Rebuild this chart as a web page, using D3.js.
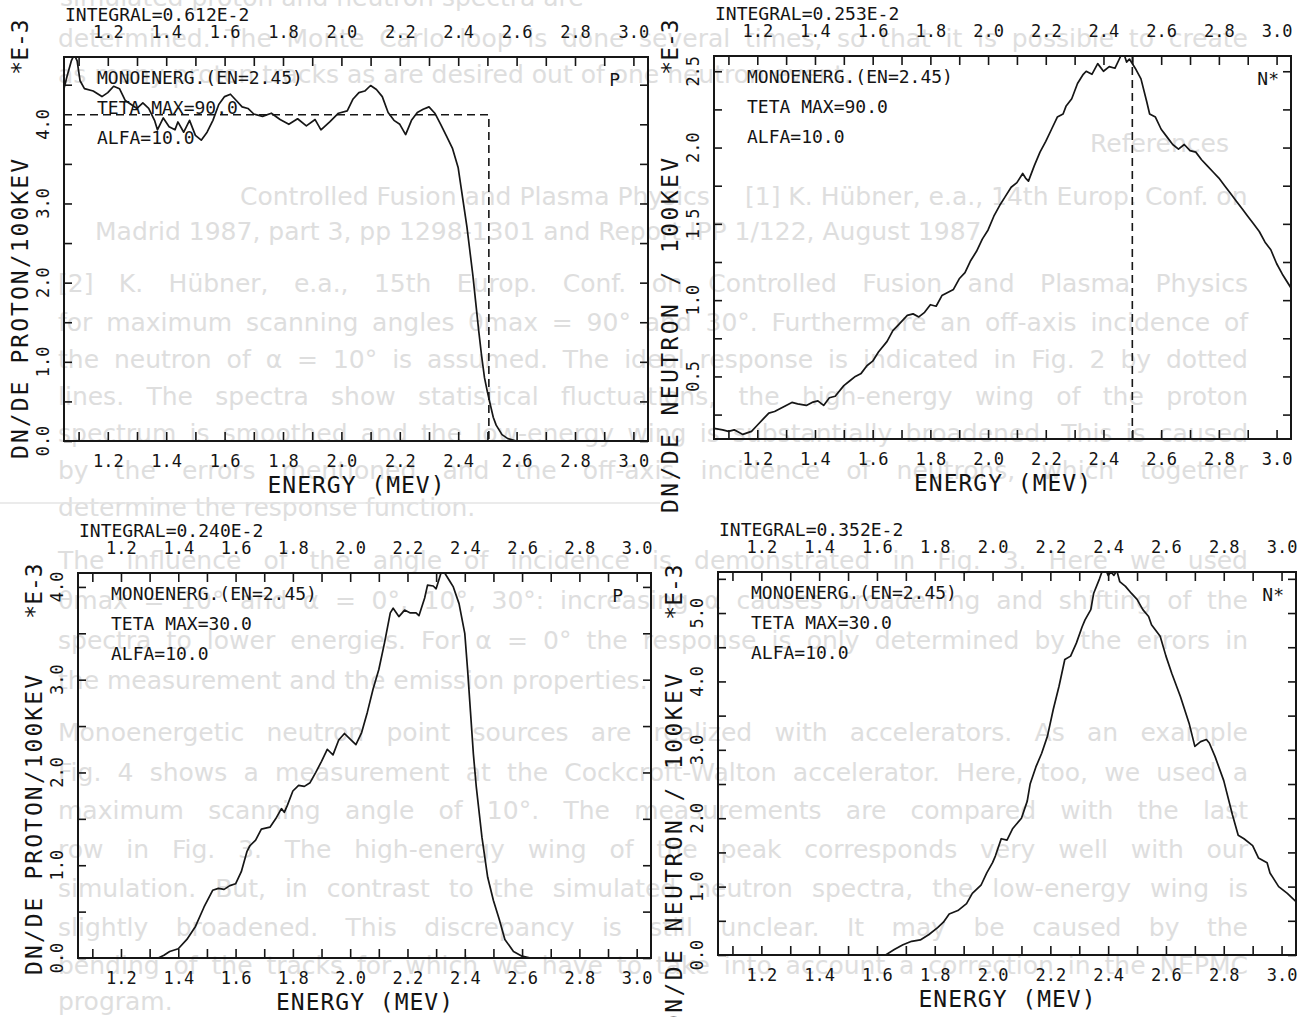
<!DOCTYPE html>
<html>
<head>
<meta charset="utf-8">
<script src="https://cdn.jsdelivr.net/npm/d3@7"></script>
<style>
  body { margin: 0; background: #fff; }
  svg { display: block; }
  .page text { font-family: "DejaVu Sans", sans-serif; font-size: 25px; fill: #dedede; }
  .plot text { font-family: "DejaVu Sans Mono", monospace; fill: #141414; }
</style>
</head>
<body>
<svg width="1311" height="1017"></svg>
<script>
// shared energy axis (MeV)
var energyDomain = [1.05, 3.05];
var energyTicks = d3.range(11, 31).map(function(d) { return d / 10; });
var energyLabels = ["1.2", "1.4", "1.6", "1.8", "2.0", "2.2", "2.4", "2.6", "2.8", "3.0"];

var integrals = ["INTEGRAL=0.612E-2", "INTEGRAL=0.253E-2", "INTEGRAL=0.240E-2", "INTEGRAL=0.352E-2"];
var particles = ["P", "N*", "P", "N*"];
var yTitles = ["DN/DE PROTON/100KEV", "DN/DE NEUTRON / 100KEV", "DN/DE PROTON/100KEV", "DN/DE NEUTRON / 100KEV"];
var info90 = ["MONOENERG.(EN=2.45)", "TETA MAX=90.0", "ALFA=10.0"];
var info30 = ["MONOENERG.(EN=2.45)", "TETA MAX=30.0", "ALFA=10.0"];

// panel 1: proton spectrum, teta max 90
var p1Energy = [1.05,1.06,1.075,1.085,1.095,1.105,1.12,1.15,1.18,
  1.20,1.22,1.24,1.26,1.28,1.30,1.32,1.34,1.36,
  1.37,1.39,1.41,1.43,1.44,1.46,1.48,1.50,1.52,1.54,1.56,1.58,1.60,1.62,1.64,1.66,1.68,1.70,
  1.73,1.76,1.79,1.82,1.85,1.88,1.91,1.93,1.96,1.99,
  2.02,2.04,2.06,2.08,2.10,2.12,2.14,2.16,2.18,2.20,2.22,2.24,2.26,2.28,2.30,2.32,2.34,2.36,2.38,2.40,
  2.41,2.42,2.43,2.44,2.45,2.46,2.47,2.48,2.49,2.50,2.51,2.52,2.53,
  2.55,2.57,2.60,3.05];
var p1Value = [4.45,4.6,4.8,4.88,4.8,4.55,4.45,4.42,4.35,
  4.4,4.48,4.45,4.3,4.25,4.2,4.27,4.2,4.05,
  3.93,4.08,3.97,3.93,4.03,3.9,4.05,3.86,3.8,3.9,4.05,4.25,4.35,4.38,4.3,4.22,4.2,4.13,
  4.1,4.14,4.06,4.0,4.07,3.98,4.06,3.93,4.03,4.14,
  4.17,4.32,4.4,4.42,4.49,4.44,4.35,4.15,4.05,4.0,3.87,4.05,4.15,4.19,4.22,4.14,4.0,3.85,3.7,3.45,
  3.2,2.95,2.7,2.4,2.1,1.75,1.4,1.08,0.8,0.62,0.46,0.3,0.2,
  0.08,0.03,0,0];
var p1IdealEnergy = [1.05, 2.505, 2.505];
var p1IdealValue = [4.12, 4.12, 0];
var p1YTicks = [0, 0.5, 1, 1.5, 2, 2.5, 3, 3.5, 4, 4.5];
var p1YLabels = [0, 1, 2, 3, 4];

// panel 2: neutron spectrum, teta max 90
var p2Energy = [1.05,1.08,1.10,1.12,1.15,1.18,1.20,1.22,1.24,1.26,1.28,1.30,1.32,1.34,1.37,1.39,1.41,1.43,1.45,1.47,
  1.50,1.52,1.54,1.56,1.58,1.60,1.62,1.65,1.67,1.69,1.72,1.74,1.76,1.78,1.80,1.82,1.84,1.86,1.88,1.90,
  1.92,1.94,1.96,1.98,2.00,2.02,2.04,2.06,2.08,2.10,2.12,2.13,2.14,2.16,2.18,2.20,2.22,2.24,2.26,2.27,
  2.29,2.31,2.33,2.34,2.36,2.38,2.40,2.42,2.44,2.46,2.47,2.48,2.49,2.51,2.53,2.55,2.56,2.58,2.60,2.62,
  2.64,2.66,2.68,2.70,2.72,2.74,2.76,2.78,2.80,2.82,2.84,2.86,2.88,2.90,2.92,2.94,2.96,2.98,3.00,3.02,3.05];
var p2Value = [0.16,0.15,0.14,0.15,0.12,0.14,0.18,0.22,0.26,0.27,0.29,0.31,0.33,0.32,0.31,0.33,0.34,0.31,0.36,0.37,
  0.44,0.47,0.50,0.52,0.57,0.60,0.66,0.73,0.80,0.84,0.90,0.91,0.89,0.92,0.97,0.96,1.03,1.05,1.07,1.14,
  1.18,1.26,1.32,1.40,1.46,1.55,1.62,1.68,1.74,1.77,1.83,1.80,1.78,1.88,1.97,2.04,2.12,2.20,2.22,2.27,
  2.32,2.42,2.48,2.50,2.48,2.55,2.50,2.53,2.52,2.60,2.62,2.56,2.58,2.52,2.45,2.30,2.22,2.20,2.12,2.07,
  2.02,1.99,2.02,1.98,1.97,1.92,1.88,1.84,1.80,1.75,1.70,1.65,1.60,1.55,1.50,1.45,1.38,1.33,1.24,1.17,1.08];
var p2IdealEnergy = [2.5, 2.5];
var p2IdealValue = [0.09, 2.6];
var p2YTicks = [0.25, 0.5, 0.75, 1, 1.25, 1.5, 1.75, 2, 2.25, 2.5];
var p2YLabels = [0.5, 1, 1.5, 2, 2.5];

// panel 3: proton spectrum, teta max 30
var p3Energy = [1.05,1.33,1.35,1.37,1.40,1.43,1.46,1.49,1.52,1.54,1.56,1.58,1.60,1.62,1.64,1.65,1.67,1.69,1.72,1.74,
  1.76,1.77,1.78,1.80,1.82,1.84,1.86,1.88,1.90,1.92,1.94,1.96,1.98,2.00,2.02,2.04,2.06,2.08,2.10,2.12,
  2.14,2.15,2.17,2.19,2.21,2.23,2.24,2.26,2.27,2.29,2.30,2.32,2.33,2.35,2.36,2.38,2.40,2.41,2.42,2.43,
  2.44,2.46,2.48,2.50,2.52,2.54,2.57,2.60,2.63,3.05];
var p3Value = [0,0,0.03,0.07,0.10,0.20,0.34,0.55,0.73,0.75,0.74,0.78,0.80,0.93,1.15,1.21,1.27,1.39,1.41,1.50,
  1.61,1.57,1.64,1.80,1.86,1.85,1.89,2.00,2.12,2.25,2.19,2.35,2.42,2.36,2.30,2.43,2.65,2.90,3.11,3.40,
  3.72,3.77,3.68,3.75,3.72,3.72,3.69,3.88,4.02,4.01,3.98,4.18,4.15,4.05,4.0,3.82,3.5,3.1,2.65,2.2,
  1.85,1.3,0.87,0.62,0.42,0.2,0.07,0.02,0,0];
var p3YTicks = [0, 0.5, 1, 1.5, 2, 2.5, 3, 3.5, 4];
var p3YLabels = [0, 1, 2, 3, 4];

// panel 4: neutron spectrum, teta max 30
var p4Energy = [1.05,1.63,1.66,1.69,1.72,1.75,1.78,1.81,1.83,1.85,1.88,1.91,1.93,1.96,1.98,2.00,2.01,2.03,2.05,2.07,
  2.10,2.12,2.13,2.15,2.17,2.19,2.21,2.23,2.25,2.27,2.29,2.31,2.32,2.34,2.35,2.37,2.38,2.39,2.40,2.41,
  2.42,2.43,2.44,2.46,2.48,2.50,2.52,2.54,2.55,2.58,2.60,2.62,2.65,2.68,2.70,2.72,2.74,2.75,2.77,2.80,
  2.83,2.85,2.87,2.90,2.92,2.95,2.96,2.99,3.02,3.05];
var p4Value = [0,0,0.08,0.15,0.20,0.22,0.30,0.40,0.48,0.60,0.65,0.75,0.90,1.02,1.20,1.35,1.45,1.70,1.68,1.85,
  2.00,2.25,2.50,2.75,2.95,3.20,3.59,3.93,4.32,4.37,4.56,4.80,4.90,5.05,5.29,5.50,5.62,5.65,5.55,5.60,
  5.55,5.62,5.46,5.39,5.29,5.20,5.05,4.95,4.83,4.66,4.37,4.12,3.78,3.39,3.05,3.12,3.15,3.10,2.90,2.55,
  2.05,1.75,1.70,1.60,1.42,1.35,1.20,1.00,0.90,0.78];
var p4YTicks = [0, 0.5, 1, 1.5, 2, 2.5, 3, 3.5, 4, 4.5, 5, 5.5];
var p4YLabels = [0, 1, 2, 3, 4, 5];

// faint show-through text of the scanned page
var pageLines = [
  { x: 60, y: 6, t: "simulated proton and neutron spectra are" },
  { x: 58, y: 47, w: 1190, t: "determined. The Monte Carlo loop is done several times, so that it is possible to create" },
  { x: 58, y: 83, t: "as many proton tracks as are desired out of one neutron event." },
  { x: 1090, y: 152, t: "References" },
  { x: 240, y: 205, t: "Controlled Fusion and Plasma Physics" },
  { x: 745, y: 205, t: "[1] K. Hübner, e.a., 14th Europ. Conf. on" },
  { x: 95, y: 240, t: "Madrid 1987, part 3, pp 1298-1301 and Report IPP 1/122, August 1987" },
  { x: 58, y: 292, w: 1190, t: "[2] K. Hübner, e.a., 15th Europ. Conf. on Controlled Fusion and Plasma Physics" },
  { x: 58, y: 331, w: 1190, t: "for maximum scanning angles θmax = 90° and 30°. Furthermore an off-axis incidence of" },
  { x: 58, y: 368, w: 1190, t: "the neutron of α = 10° is assumed. The ideal response is indicated in Fig. 2 by dotted" },
  { x: 58, y: 405, w: 1190, t: "lines. The spectra show statistical fluctuations, the high-energy wing of the proton" },
  { x: 58, y: 442, w: 1190, t: "spectrum is smoothed and the low-energy wing is substantially broadened. This is caused" },
  { x: 58, y: 479, w: 1190, t: "by the errors mentioned and the off-axis incidence of neutrons, which together" },
  { x: 58, y: 516, t: "determine the response function." },
  { x: 58, y: 569, w: 1190, t: "The influence of the angle of incidence is demonstrated in Fig. 3. Here we used" },
  { x: 58, y: 609, w: 1190, t: "θmax = 10° and α = 0°, 10°, 30°: increasing α causes broadening and shifting of the" },
  { x: 58, y: 649, w: 1190, t: "spectra to lower energies. For α = 0° the response is only determined by the errors in" },
  { x: 58, y: 689, t: "the measurement and the emission properties." },
  { x: 58, y: 741, w: 1190, t: "Monoenergetic neutron point sources are realized with accelerators. As an example" },
  { x: 58, y: 781, w: 1190, t: "Fig. 4 shows a measurement at the Cockcroft-Walton accelerator. Here, too, we used a" },
  { x: 58, y: 819, w: 1190, t: "maximum scanning angle of 10°. The measurements are compared with the last" },
  { x: 58, y: 858, w: 1190, t: "row in Fig. 3. The high-energy wing of the peak corresponds very well with our" },
  { x: 58, y: 897, w: 1190, t: "simulation. But, in contrast to the simulated neutron spectra, the low-energy wing is" },
  { x: 58, y: 936, w: 1190, t: "slightly broadened. This discrepancy is still unclear. It may be caused by the" },
  { x: 58, y: 974, w: 1190, t: "bending of the tracks for which we have to take into account a correction in the NEPMC" },
  { x: 58, y: 1010, t: "program." }
];

var panels = [
  { box: { left: 64, top: 57, right: 648, bottom: 441 }, yDomain: [0, 4.85], unitY: 47, titleLen: 300,
    energy: p1Energy, value: p1Value, idealE: p1IdealEnergy, idealV: p1IdealValue,
    yTicks: p1YTicks, yLabels: p1YLabels, info: info90 },
  { box: { left: 714, top: 56, right: 1291, bottom: 439 }, yDomain: [0.09, 2.6], unitY: 47, titleLen: 355,
    energy: p2Energy, value: p2Value, idealE: p2IdealEnergy, idealV: p2IdealValue,
    yTicks: p2YTicks, yLabels: p2YLabels, info: info90 },
  { box: { left: 78, top: 573, right: 651, bottom: 958 }, yDomain: [0, 4.15], unitY: 591, titleLen: 300,
    energy: p3Energy, value: p3Value,
    yTicks: p3YTicks, yLabels: p3YLabels, info: info30 },
  { box: { left: 718, top: 572, right: 1296, bottom: 955 }, yDomain: [0, 5.6], unitY: 592, titleLen: 355,
    energy: p4Energy, value: p4Value,
    yTicks: p4YTicks, yLabels: p4YLabels, info: info30 }
];

var svg = d3.select("svg"),
    ink = "#161616",
    mono = "DejaVu Sans Mono, monospace";

svg.append("rect").attr("width", 1311).attr("height", 1017).attr("fill", "#fff");

// page text, justified by widening the word gaps (or squeezing if too long)
var page = svg.append("g").attr("class", "page");
pageLines.forEach(function(l) {
  var t = page.append("text").attr("x", l.x).attr("y", l.y).text(l.t);
  if (l.w) {
    var gaps = l.t.split(" ").length - 1,
        extra = l.w - t.node().getComputedTextLength();
    if (extra > 0 && gaps > 0) t.attr("word-spacing", extra / gaps);
    else if (extra < 0) t.attr("textLength", l.w).attr("lengthAdjust", "spacingAndGlyphs");
  }
});
page.append("line").attr("x1", 0).attr("x2", 660).attr("y1", 503).attr("y2", 503)
    .attr("stroke", "#e4e4e4").attr("stroke-width", 1.5);

var fmtEnergy = function(d) {
  var s = d.toFixed(1);
  return energyLabels.indexOf(s) >= 0 ? s : "";
};

panels.forEach(function(p, i) {
  var b = p.box;
  var x = d3.scaleLinear().domain(energyDomain).range([b.left, b.right]);
  var y = d3.scaleLinear().domain(p.yDomain).range([b.bottom, b.top]);
  var g = svg.append("g").attr("class", "plot");

  g.append("clipPath").attr("id", "clip" + i)
    .append("rect")
      .attr("x", b.left).attr("y", b.top)
      .attr("width", b.right - b.left).attr("height", b.bottom - b.top);

  // axes: ticks point inward on all four sides
  g.append("g").attr("transform", "translate(0," + b.bottom + ")")
    .call(d3.axisBottom(x).tickValues(energyTicks).tickSize(-9).tickSizeOuter(0).tickPadding(14).tickFormat(fmtEnergy));
  g.append("g").attr("transform", "translate(0," + b.top + ")")
    .call(d3.axisTop(x).tickValues(energyTicks).tickSize(-9).tickSizeOuter(0).tickPadding(19).tickFormat(fmtEnergy));
  g.append("g").attr("transform", "translate(" + b.left + ",0)")
    .call(d3.axisLeft(y).tickValues(p.yTicks).tickSize(-8).tickSizeOuter(0).tickFormat(""));
  g.append("g").attr("transform", "translate(" + b.right + ",0)")
    .call(d3.axisRight(y).tickValues(p.yTicks).tickSize(-8).tickSizeOuter(0).tickFormat(""));
  g.selectAll(".domain").remove();
  g.selectAll(".tick line").attr("stroke", ink).attr("stroke-width", 1.6);
  g.selectAll(".tick text").attr("font-family", mono).attr("font-size", 17).attr("fill", ink);

  g.append("rect")
    .attr("x", b.left).attr("y", b.top)
    .attr("width", b.right - b.left).attr("height", b.bottom - b.top)
    .attr("fill", "none").attr("stroke", ink).attr("stroke-width", 2);

  // rotated y tick labels
  g.selectAll(".ylab").data(p.yLabels).enter().append("text")
    .attr("class", "ylab")
    .attr("transform", function(d) { return "translate(" + (b.left - 21) + "," + y(d) + ") rotate(-90)"; })
    .attr("text-anchor", "middle").attr("dy", "0.36em")
    .attr("font-size", 17)
    .text(function(d) { return d.toFixed(1); });

  // axis titles
  g.append("text")
    .attr("transform", "translate(" + (b.left - 44) + "," + (b.top + 102) + ") rotate(-90)")
    .attr("text-anchor", "end").attr("dy", "0.36em")
    .attr("font-size", 23)
    .attr("textLength", p.titleLen).attr("lengthAdjust", "spacing")
    .text(yTitles[i]);
  g.append("text")
    .attr("transform", "translate(" + (b.left - 44) + "," + p.unitY + ") rotate(-90)")
    .attr("text-anchor", "middle").attr("dy", "0.36em")
    .attr("font-size", 23)
    .text("*E-3");
  g.append("text")
    .attr("x", (b.left + b.right) / 2).attr("y", b.bottom + 52)
    .attr("text-anchor", "middle")
    .attr("font-size", 23)
    .attr("textLength", 177).attr("lengthAdjust", "spacing")
    .text("ENERGY (MEV)");

  g.append("text")
    .attr("x", b.left + 1).attr("y", b.top - 36)
    .attr("font-size", 18)
    .text(integrals[i]);

  // ideal response (dashed)
  if (p.idealE) {
    g.append("path")
      .datum(d3.zip(p.idealE, p.idealV))
      .attr("fill", "none").attr("stroke", ink).attr("stroke-width", 1.6)
      .attr("stroke-dasharray", "8,5")
      .attr("d", d3.line().x(function(d) { return x(d[0]); }).y(function(d) { return y(d[1]); }));
  }

  // simulated spectrum
  g.append("path")
    .datum(d3.zip(p.energy, p.value))
    .attr("clip-path", "url(#clip" + i + ")")
    .attr("fill", "none").attr("stroke", ink).attr("stroke-width", 1.7)
    .attr("stroke-linejoin", "round")
    .attr("d", d3.line().x(function(d) { return x(d[0]); }).y(function(d) { return y(d[1]); }));

  g.selectAll(".info").data(p.info).enter().append("text")
    .attr("class", "info")
    .attr("x", b.left + 33)
    .attr("y", function(d, k) { return b.top + 27 + k * 30; })
    .attr("font-size", 18)
    .text(function(d) { return d; });

  g.append("text")
    .attr("x", b.right - (particles[i] === "P" ? 28 : 12))
    .attr("y", b.top + 29)
    .attr("text-anchor", "end")
    .attr("font-size", 18)
    .text(particles[i]);
});
</script>
</body>
</html>
